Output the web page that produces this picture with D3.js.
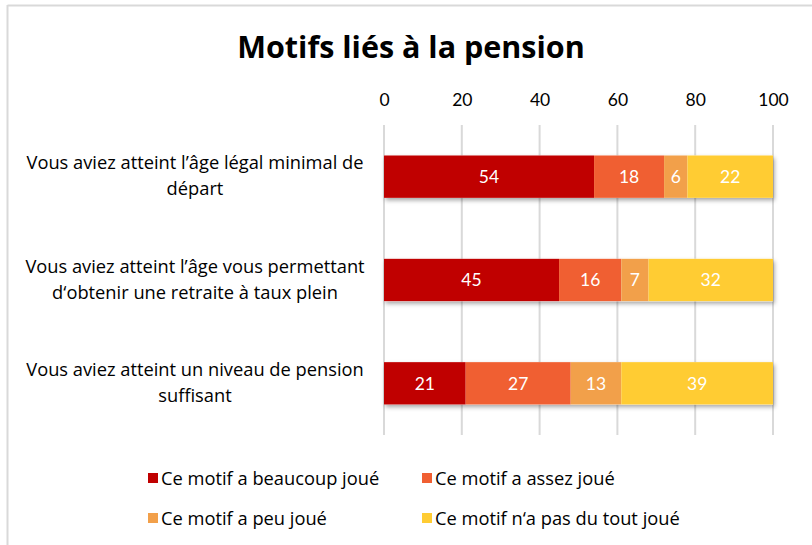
<!DOCTYPE html>
<html>
<head>
<meta charset="utf-8">
<script src="https://cdn.jsdelivr.net/npm/d3@7"></script>
<style>
  body { margin: 0; background: #fff; }
  text { font-family: Lato, "Open Sans", sans-serif; }
</style>
</head>
<body>
<div id="chart"></div>
<script>
var svgWidth = 812;
var svgHeight = 545;

// data
var categories = [
    ["Vous aviez atteint l\u2019âge légal minimal de", "départ"],
    ["Vous aviez atteint l\u2019âge vous permettant", "d\u2018obtenir une retraite à taux plein"],
    ["Vous aviez atteint un niveau de pension", "suffisant"]
];
var seriesNames = ["Ce motif a beaucoup joué", "Ce motif a assez joué", "Ce motif a peu joué", "Ce motif n\u2018a pas du tout joué"];
var beaucoup = [54, 45, 21];
var assez = [18, 16, 27];
var peu = [6, 7, 13];
var pasDuTout = [22, 32, 39];
var tickValues = [0, 20, 40, 60, 80, 100];
var colors = ["#C00000", "#F05F32", "#F2A04A", "#FFCC33"];

var margin = { left: 384, right: 39, top: 125, bottom: 110 };

var svg = d3.select("#chart")
    .append("svg")
    .attr("width", svgWidth)
    .attr("height", svgHeight);

// shadow for bars
var defs = svg.append("defs");
var filter = defs.append("filter").attr("id", "shadow")
    .attr("x", "-5%").attr("y", "-20%").attr("width", "110%").attr("height", "150%");
filter.append("feDropShadow")
    .attr("dx", 1.5).attr("dy", 2.5).attr("stdDeviation", 2)
    .attr("flood-color", "#000").attr("flood-opacity", 0.35);

// frame lines
svg.append("line").attr("x1", 7.5).attr("x2", svgWidth).attr("y1", 5.5).attr("y2", 5.5)
    .attr("stroke", "#d9d9d9").attr("stroke-width", 2);
svg.append("line").attr("x1", 7.5).attr("x2", 7.5).attr("y1", 5).attr("y2", svgHeight)
    .attr("stroke", "#d9d9d9").attr("stroke-width", 2);

// title
svg.append("text")
    .attr("x", 411)
    .attr("y", 58)
    .attr("text-anchor", "middle")
    .style("font-size", "30.5px")
    .style("font-weight", "bold")
    .style("font-family", "'Open Sans', sans-serif")
    .attr("fill", "#000")
    .text("Motifs liés à la pension");

var x = d3.scaleLinear().domain([0, 100]).range([margin.left, svgWidth - margin.right]);
var y = d3.scaleBand().domain(d3.range(categories.length))
    .range([margin.top, svgHeight - margin.bottom])
    .paddingInner(0.59).paddingOuter(0.295);

// gridlines
svg.append("g")
    .selectAll("line")
    .data(tickValues)
    .enter()
    .append("line")
    .attr("x1", d => x(d)).attr("x2", d => x(d))
    .attr("y1", margin.top).attr("y2", svgHeight - margin.bottom)
    .attr("stroke", "#d9d9d9").attr("stroke-width", 2);

// top axis
var topAxis = d3.axisTop(x).tickValues(tickValues).tickSize(0).tickPadding(0);
var axisG = svg.append("g")
    .attr("transform", "translate(0, 106)")
    .call(topAxis);
axisG.select(".domain").remove();
axisG.selectAll("text")
    .style("font-size", "17.5px")
    .style("font-family", "Lato, 'Open Sans', sans-serif")
    .attr("fill", "#000");

// stack
var table = categories.map((c, i) => ({
    idx: i, s0: beaucoup[i], s1: assez[i], s2: peu[i], s3: pasDuTout[i]
}));
var stack = d3.stack().keys(["s0", "s1", "s2", "s3"])(table);

// white rows that carry the drop shadow
var shadowG = svg.append("g");
shadowG.selectAll("rect")
    .data(table)
    .enter()
    .append("rect")
    .attr("x", x(0))
    .attr("y", d => y(d.idx))
    .attr("width", x(100) - x(0))
    .attr("height", y.bandwidth())
    .attr("fill", "#fff")
    .attr("filter", "url(#shadow)");

var layers = svg.append("g").selectAll("g")
    .data(stack)
    .enter()
    .append("g")
    .attr("fill", (d, i) => colors[i]);

layers.selectAll("rect")
    .data(d => d)
    .enter()
    .append("rect")
    .attr("x", d => x(d[0]))
    .attr("y", d => y(d.data.idx))
    .attr("width", d => x(d[1]) - x(d[0]))
    .attr("height", y.bandwidth());

// value labels
layers.selectAll("text")
    .data(d => d)
    .enter()
    .append("text")
    .attr("x", d => (x(d[0]) + x(d[1])) / 2)
    .attr("y", d => y(d.data.idx) + y.bandwidth() / 2)
    .attr("dy", "0.36em")
    .attr("text-anchor", "middle")
    .attr("fill", "#fff")
    .style("font-size", "17.5px")
    .text(d => d[1] - d[0]);

// category labels
var catG = svg.append("g");
categories.forEach(function (lines, i) {
    var cy = y(i) + y.bandwidth() / 2;
    catG.append("text")
        .attr("x", 195)
        .attr("text-anchor", "middle")
        .attr("fill", "#000")
        .style("font-size", "18.3px")
        .style("font-family", "'Open Sans', sans-serif")
        .selectAll("tspan")
        .data(lines)
        .enter()
        .append("tspan")
        .attr("x", 195)
        .attr("y", (d, j) => cy - 14 + j * 26)
        .attr("dy", "0.36em")
        .text(d => d);
});

// legend
var legendPos = [[148, 478], [422, 478], [148, 518], [422, 518]];
var legend = svg.append("g").selectAll("g")
    .data(seriesNames)
    .enter()
    .append("g")
    .attr("transform", (d, i) => `translate(${legendPos[i][0]}, ${legendPos[i][1]})`);
legend.append("rect")
    .attr("x", 0).attr("y", -5).attr("width", 10).attr("height", 10)
    .attr("fill", (d, i) => colors[i]);
legend.append("text")
    .attr("x", 13)
    .attr("y", 0)
    .attr("dy", "0.36em")
    .attr("fill", "#000")
    .style("font-size", "18.3px")
    .style("font-family", "'Open Sans', sans-serif")
    .text(d => d);
</script>
</body>
</html>
